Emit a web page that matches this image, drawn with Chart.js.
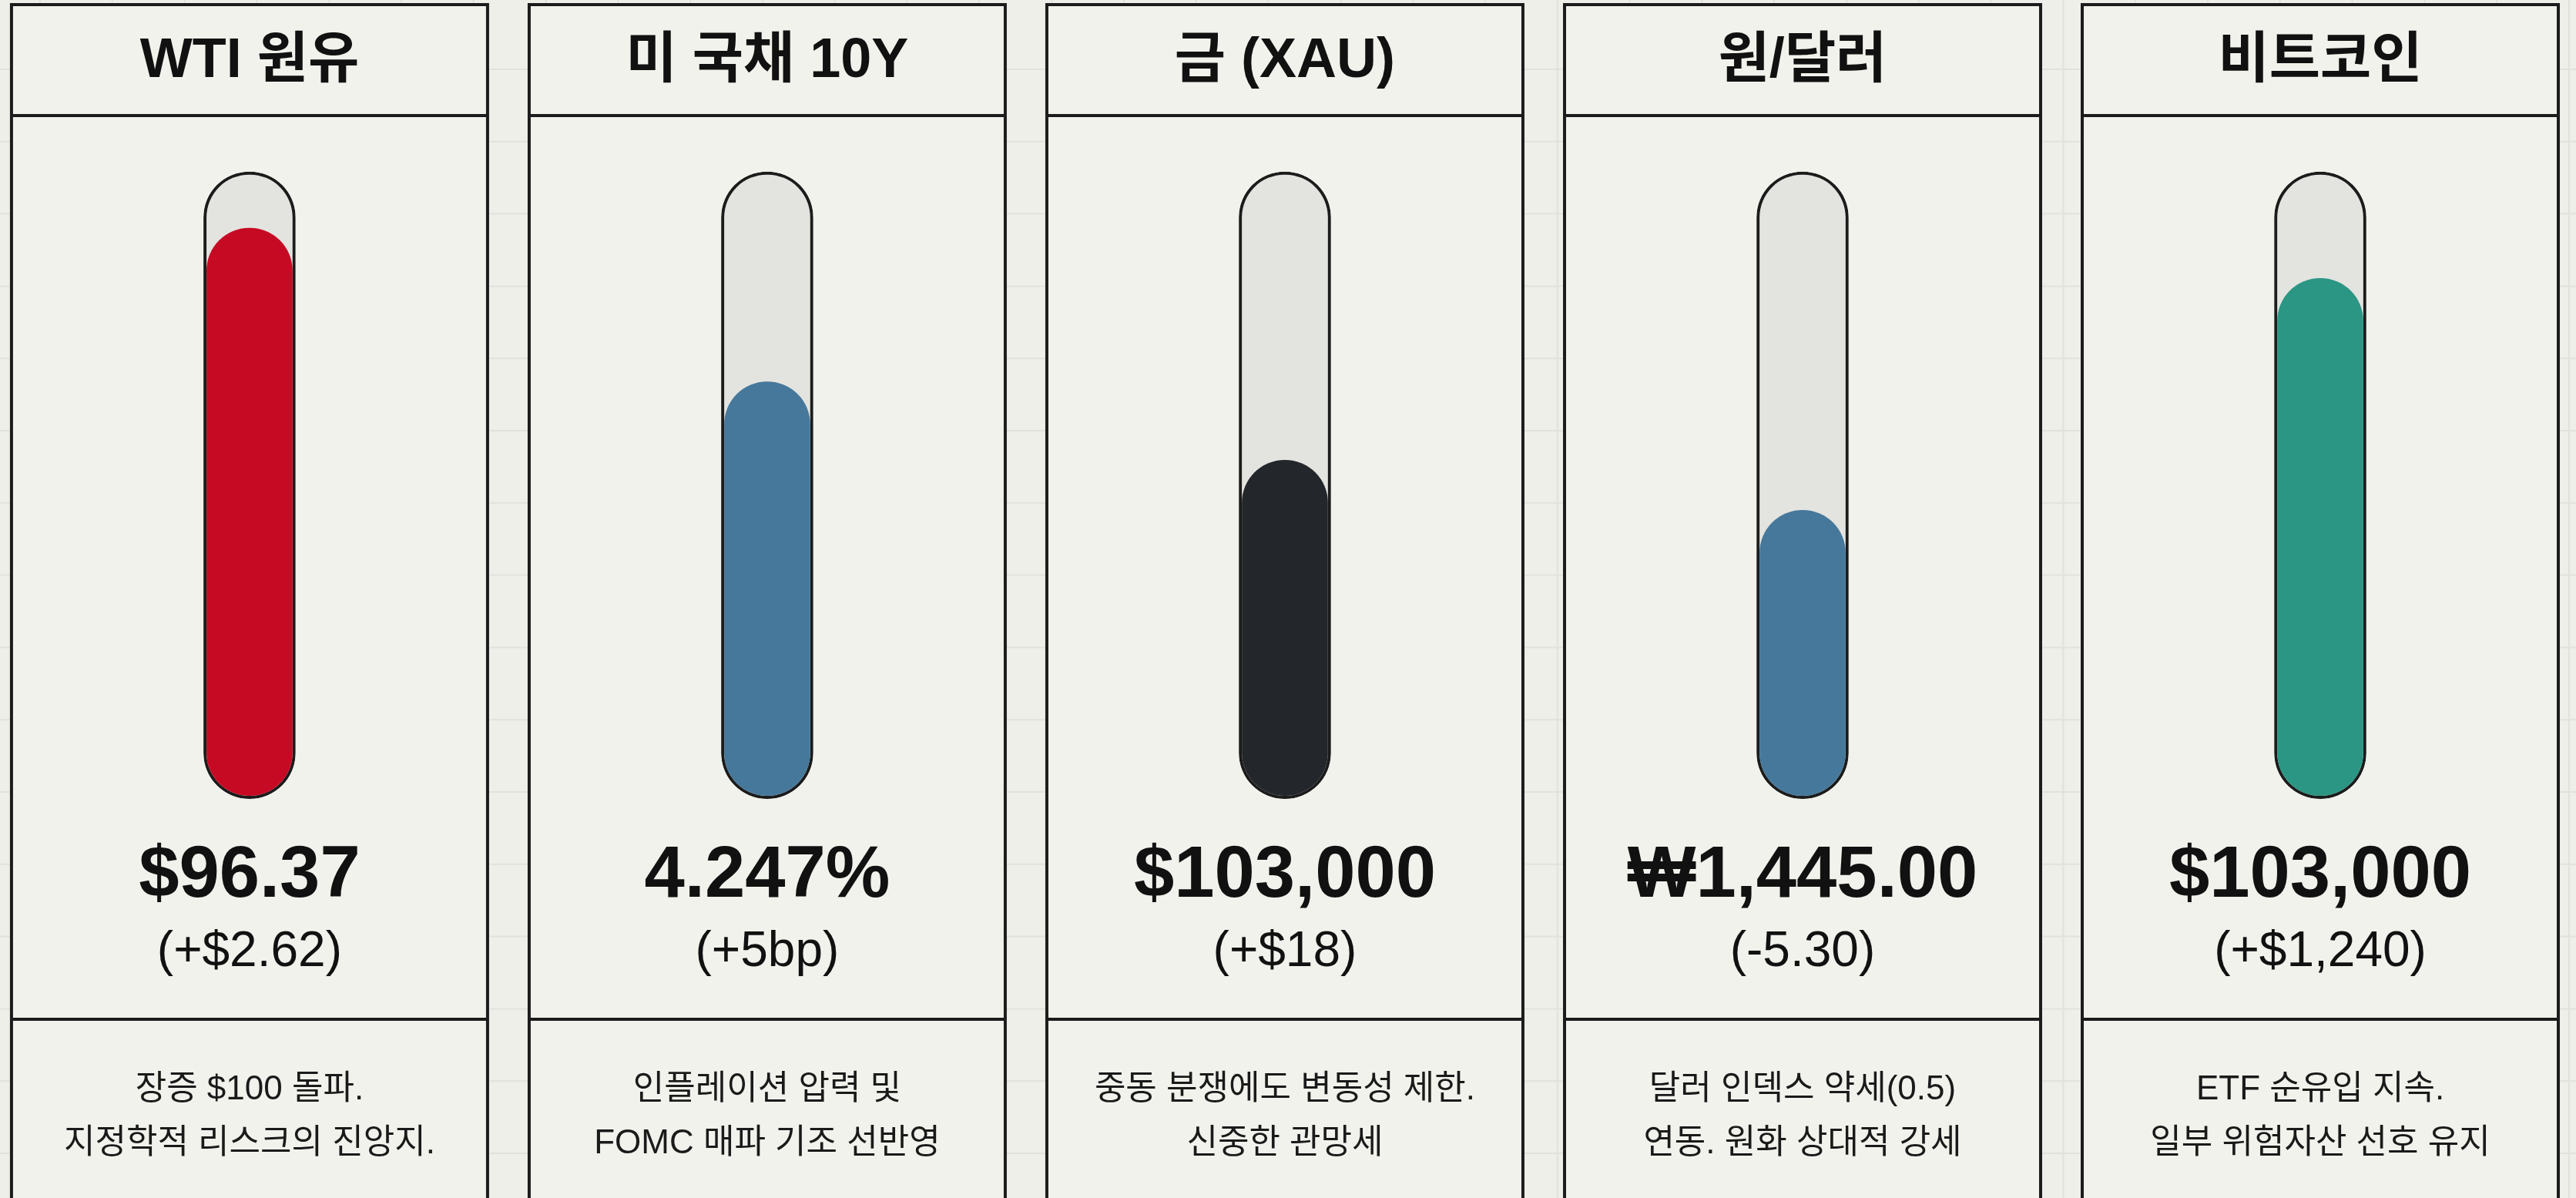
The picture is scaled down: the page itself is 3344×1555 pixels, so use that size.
<!DOCTYPE html>
<html lang="ko">
<head>
<meta charset="utf-8">
<title>시장 온도계</title>
<script src="https://cdn.jsdelivr.net/npm/chart.js@4.4.1/dist/chart.umd.min.js"></script>
<style>
    html, body { margin: 0; padding: 0; background: #efefea; overflow: hidden; }
    #wrap { position: relative; width: 3344px; height: 1555px; }
</style>
</head>
<body>
<div id="wrap"><canvas id="gauges"></canvas></div>
<script>
// data
const assets = ['WTI 원유', '미 국채 10Y', '금 (XAU)', '원/달러', '비트코인'];
const levels = [91, 66.5, 54, 46, 83];          // fill level of each tube, % of full
const tubeFull = 100;
const prices = ['$96.37', '4.247%', '$103,000', '₩1,445.00', '$103,000'];
const changes = ['(+$2.62)', '(+5bp)', '(+$18)', '(-5.30)', '(+$1,240)'];
const notes = [
    ['장증 $100 돌파.', '지정학적 리스크의 진앙지.'],
    ['인플레이션 압력 및', 'FOMC 매파 기조 선반영'],
    ['중동 분쟁에도 변동성 제한.', '신중한 관망세'],
    ['달러 인덱스 약세(0.5)', '연동. 원화 상대적 강세'],
    ['ETF 순유입 지속.', '일부 위험자산 선호 유지']
];

const fillColors = ['#c70a24', '#46789b', '#23272c', '#46789b', '#2a9683'];
const ink = '#1c1c1c';
const FONT = '"Liberation Sans", "Noto Sans CJK KR", sans-serif';

// panels, background grid and the text around the tubes
const panelPlugin = {
    id: 'panels',
    beforeDatasetsDraw(chart) {
        const { ctx, width, height } = chart;
        const xs = chart.scales.x;
        ctx.save();
        ctx.fillStyle = '#efefea';
        ctx.fillRect(0, 0, width, height);

        // faint paper grid
        ctx.strokeStyle = '#e2e2dd';
        ctx.lineWidth = 2;
        for (let y = 90; y < height; y += 93.8) {
            ctx.beginPath(); ctx.moveTo(0, y); ctx.lineTo(width, y); ctx.stroke();
        }
        for (let x = 52; x < width; x += 93.8) {
            ctx.beginPath(); ctx.moveTo(x, 0); ctx.lineTo(x, height); ctx.stroke();
        }

        assets.forEach((a, i) => {
            const cx = xs.getPixelForValue(i);
            const l = cx - 309, r = cx + 309;
            ctx.fillStyle = '#f2f2ed';
            ctx.fillRect(l, 6, r - l, height);
            ctx.strokeStyle = ink;
            ctx.lineWidth = 4;
            ctx.beginPath();
            ctx.moveTo(l, height + 10); ctx.lineTo(l, 6); ctx.lineTo(r, 6); ctx.lineTo(r, height + 10);
            ctx.moveTo(l, 150); ctx.lineTo(r, 150);
            ctx.moveTo(l, 1323); ctx.lineTo(r, 1323);
            ctx.stroke();
        });
        ctx.restore();
    },
    afterDraw(chart) {
        const { ctx } = chart;
        const xs = chart.scales.x;
        ctx.save();
        ctx.fillStyle = '#111';
        ctx.textAlign = 'center';
        ctx.textBaseline = 'middle';
        assets.forEach((a, i) => {
            const cx = xs.getPixelForValue(i);
            ctx.font = 'bold 72px ' + FONT;
            ctx.fillText(a, cx, 80);
            ctx.font = 'bold 94px ' + FONT;
            ctx.fillText(prices[i], cx, 1138);
            ctx.font = '64px ' + FONT;
            ctx.fillText(changes[i], cx, 1236);
            ctx.font = '44px ' + FONT;
            ctx.fillStyle = '#1a1a1a';
            notes[i].forEach((line, j) => ctx.fillText(line, cx, 1415 + j * 70));
            ctx.fillStyle = '#111';
        });
        ctx.restore();
    }
};

window.addEventListener('load', () => {
    const ctx = document.getElementById('gauges').getContext('2d');
    new Chart(ctx, {
        type: 'bar',
        data: {
            datasets: [
                {
                    // the mercury
                    data: levels.map((v, i) => ({ x: i, y: [0.5, v] })),
                    backgroundColor: fillColors,
                    borderWidth: 0,
                    borderRadius: 56,
                    borderSkipped: false,
                    barThickness: 111,
                    grouped: false,
                    order: 0
                },
                {
                    // the glass tube
                    data: assets.map((a, i) => ({ x: i, y: [0, tubeFull] })),
                    backgroundColor: '#e3e3df',
                    borderColor: ink,
                    borderWidth: 4,
                    borderRadius: 60,
                    borderSkipped: false,
                    barThickness: 119,
                    grouped: false,
                    order: 1
                }
            ]
        },
        options: {
            responsive: true,
            maintainAspectRatio: false,
            animation: false,
            layout: { padding: 0 },
            plugins: {
                legend: { display: false },
                tooltip: { enabled: false }
            },
            scales: {
                x: { type: 'linear', display: false, offset: false, min: -0.482, max: 4.494 },
                y: { display: false, min: -63.7, max: 127.4 }
            }
        },
        plugins: [panelPlugin]
    });
});
</script>
</body>
</html>
